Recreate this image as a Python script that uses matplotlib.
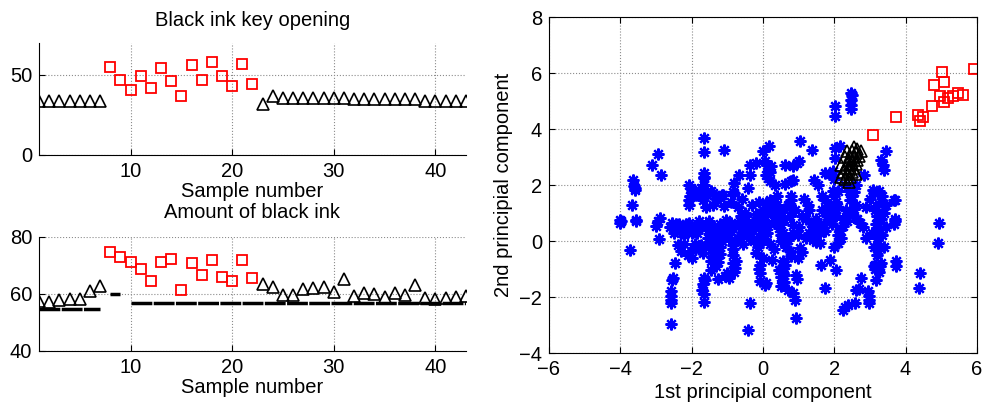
import numpy as np
import matplotlib
matplotlib.use("Agg")
import matplotlib.pyplot as plt

plt.rcParams['font.family'] = ['Liberation Sans', 'DejaVu Sans']
plt.rcParams['font.size'] = 14.5

# ---------------- Data ----------------

good_idx = list(range(1, 8)) + list(range(23, 44))
bad_idx = list(range(8, 23))

# Black ink key opening
key_good = [33.7, 33.7, 33.7, 33.7, 33.7, 33.7, 33.7,
            31.6, 36.8, 35.7, 35.7, 35.7, 35.7, 35.7, 35.7, 35.7,
            34.7, 34.7, 34.7, 34.7, 34.7, 34.7, 34.7,
            33.7, 33.7, 33.7, 33.7, 33.7]
key_bad = [55.2, 46.9, 40.9, 49.2, 41.9, 54.1, 46.1, 37.0,
           56.0, 47.1, 58.1, 49.2, 43.0, 57.0, 44.2]

# Amount of black ink
ink_good = [57.5, 57.3, 57.8, 58.2, 58.1, 61.2, 62.9,
            63.5, 62.4, 59.6, 59.6, 61.8, 62.0, 62.6, 60.6, 65.2,
            59.4, 60.2, 59.9, 58.8, 60.2, 59.6, 63.2,
            58.5, 58.2, 58.7, 59.1, 59.4]
ink_bad = [74.7, 72.9, 71.1, 68.6, 64.4, 71.1, 72.2, 61.3,
           70.8, 66.8, 72.0, 66.0, 64.4, 71.8, 65.6]
# reference levels (start sample, end sample, level)
ink_ref = [(1, 7, 54.9), (8, 9, 60.0), (10, 43, 56.9)]

# principal component scores
pc_bad = [(3.08, 3.8), (3.74, 4.43), (4.35, 4.49), (4.41, 4.27), (4.5, 4.43),
          (4.74, 4.81), (4.81, 5.58), (4.97, 5.17), (5.01, 6.04), (5.07, 5.67),
          (5.07, 4.96), (5.18, 5.11), (5.32, 5.17), (5.46, 5.29), (5.61, 5.23),
          (5.91, 6.14)]

pc_good = [(2.2, 2.3), (2.25, 2.45), (2.3, 2.6), (2.35, 2.75), (2.4, 2.9),
           (2.45, 3.05), (2.5, 3.2), (2.55, 3.35), (2.3, 2.2), (2.35, 2.4),
           (2.4, 2.55), (2.45, 2.7), (2.5, 2.85), (2.55, 3.0), (2.6, 3.15),
           (2.65, 3.3), (2.7, 3.05), (2.65, 2.9), (2.6, 2.75), (2.55, 2.6),
           (2.5, 2.45), (2.45, 2.3), (2.4, 2.1), (2.3, 3.0), (2.75, 3.2),
           (2.2, 2.7), (2.35, 3.2), (2.6, 2.4)]

pc_other = [
    # x ~ -4
    (-4.0, 0.75), (-4.0, 0.65), (-3.98, 0.7), (-3.67, 1.3), (-3.55, 0.76),
    (-3.55, 0.7), (-3.74, -0.31), (-3.6, 1.83), (-3.62, 1.95), (-3.64, 2.19),
    (-3.6, 1.89),
    # x ~ -2.9
    (-2.94, 0.7), (-3.0, 0.55), (-2.9, 0.82), (-2.92, 0.07), (-3.11, 2.7),
    (-2.94, 3.12), (-2.87, 2.35),
    # x ~ -2.55
    (-2.55, 0.64), (-2.53, -1.32), (-2.55, -1.38), (-2.57, -1.8), (-2.58, -1.95),
    (-2.58, -2.1), (-2.57, -2.21), (-2.59, -2.95), (-2.6, 0.5), (-2.5, 0.3),
    # x ~ -2.4 .. -1.8
    (-2.45, 0.6), (-2.35, 0.62), (-2.25, 0.55), (-2.15, 0.6), (-2.06, 0.64),
    (-2.3, 0.4), (-2.24, 0.29), (-2.2, 0.2), (-2.38, -0.13), (-2.29, -0.37),
    (-2.46, -0.79), (-1.98, -0.61), (-1.96, -0.25), (-2.1, 0.45), (-2.0, 0.3),
    (-2.07, 1.48), (-2.06, 1.3), (-2.05, 1.6), (-2.06, 2.01), (-1.98, 1.81),
    (-2.02, 1.9), (-1.87, 1.65), (-2.2, -0.1), (-2.1, -0.5), (-1.9, -0.1),
    (-1.8, -0.3), (-1.9, 0.5), (-1.8, 0.7), (-1.85, 0.3), (-1.75, 0.55),
    # x ~ -1.65
    (-1.65, 3.68), (-1.64, 3.18), (-1.65, 2.43), (-1.65, 2.3), (-1.65, 2.25),
    (-1.64, 2.01), (-1.73, 1.89), (-1.68, 1.48), (-1.7, 1.6), (-1.6, 1.7),
    (-1.82, 0.46), (-1.73, -0.13), (-1.68, -0.43), (-1.66, -1.32), (-1.63, -1.4),
    (-1.7, -1.74), (-1.68, -1.55), (-1.66, -2.19), (-1.66, -1.9),
    (-1.6, 0.6), (-1.55, 0.4), (-1.6, 1.2),
    # x ~ -1.5 .. -1.2
    (-1.5, 0.7), (-1.45, 0.55), (-1.4, 0.4), (-1.35, 0.2), (-1.4, 0.05),
    (-1.3, -0.1), (-1.4, -0.3), (-1.35, -0.45), (-1.4, -0.55), (-1.31, -0.9),
    (-1.45, -1.02), (-1.26, -1.36), (-1.25, -0.75), (-1.2, -0.2), (-1.28, 0.3),
    (-1.45, -0.7), (-1.5, -0.2), (-1.55, 0.1), (-1.56, 1.65), (-1.45, 1.77),
    (-1.4, 1.71), (-1.45, 0.25), (-1.5, -0.05), (-1.35, -0.25), (-1.3, -0.6),
    (-1.2, -0.45), (-1.2, 0.6), (-1.4, 1.3), (-1.3, 1.45),
    # x ~ -1.1 .. -0.7
    (-1.12, 1.65), (-1.03, 0.76), (-0.93, 0.52), (-1.0, 0.3), (-0.95, 0.1),
    (-0.79, 0.05), (-0.84, -0.49), (-0.85, -0.3), (-0.79, -0.96), (-0.8, -1.1),
    (-0.95, -1.32), (-1.05, -1.25), (-0.9, 0.65), (-1.1, 0.45), (-0.81, 1.71),
    (-0.84, 1.74), (-1.1, 3.26), (-1.14, 1.65), (-0.81, 2.08), (-0.68, 2.35),
    (-1.15, 0.0), (-1.1, 0.15), (-1.0, 0.55), (-0.9, 0.35), (-0.85, -0.15),
    (-0.75, -0.7), (-0.85, -0.8), (-1.0, -1.15), (-1.1, 1.25), (-0.9, 1.4),
    (-0.7, 1.2), (-0.7, 0.1), (-0.65, 0.7),
    # x ~ -0.6 .. -0.25
    (-0.67, 0.52), (-0.61, 0.88), (-0.47, 0.88), (-0.5, 0.75), (-0.42, 0.29),
    (-0.35, 0.45), (-0.28, 0.4), (-0.4, 0.1), (-0.3, 0.6), (-0.37, 2.73),
    (-0.42, 1.89), (-0.37, 2.35), (-0.36, -2.21), (-0.42, -3.17), (-0.55, 0.5),
    (-0.6, 0.3), (-0.6, 1.5), (-0.5, 1.0), (-0.3, 1.3), (-0.55, -0.1),
    (-0.25, 0.0),
    # x ~ -0.2 .. 0.2
    (-0.19, 2.79), (-0.19, -0.43), (-0.15, -0.2), (-0.09, -0.85), (-0.1, -1.0),
    (-0.08, -1.15), (-0.09, -1.44), (0.05, -1.56), (0.08, -1.5), (0.0, 0.05),
    (0.05, 0.2), (-0.05, 0.4), (0.05, 0.52), (0.0, 0.7), (0.05, 0.9),
    (0.0, 1.12), (0.09, 1.36), (0.19, 1.48), (0.1, 1.0), (-0.05, 0.6),
    (0.1, 0.3), (0.15, 0.55), (-0.1, 0.15), (0.17, 3.38), (0.0, 3.2),
    (0.05, 2.85), (0.23, 2.67), (0.17, 2.55), (0.09, 2.37), (0.19, 2.13),
    (0.33, 1.99), (0.15, 2.25), (0.2, 2.45), (0.1, 2.7), (-0.2, 0.95),
    (-0.1, 1.4), (-0.2, 0.7), (0.0, -0.6), (0.2, -0.1),
    # x ~ 0.25 .. 0.65
    (0.26, -0.67), (0.3, 1.4), (0.4, 1.3), (0.45, 0.9), (0.5, 0.6),
    (0.55, 0.3), (0.5, 0.0), (0.56, -0.7), (0.55, -0.9), (0.56, -1.14),
    (0.51, -1.3), (0.51, -1.62), (0.61, -0.85), (0.58, -1.45), (0.61, 2.04),
    (0.61, 2.7), (0.4, 1.6), (0.6, 1.15), (0.25, 1.2), (0.35, 0.95),
    (0.45, 0.45), (0.3, 0.7), (0.5, 0.2), (0.6, 0.8), (0.3, -0.3),
    (0.65, -0.2), (0.6, -1.2), (0.45, -1.05),
    # x ~ 0.7 .. 1.2
    (0.79, 1.6), (0.8, 1.45), (0.84, 0.58), (0.98, 0.23), (1.03, -0.25),
    (0.98, -0.61), (0.93, -1.2), (0.95, -1.35), (0.7, -1.74), (0.84, -1.86),
    (0.89, -2.1), (0.93, -2.75), (0.84, 2.67), (0.96, 2.79), (1.0, 2.85),
    (0.84, 2.19), (0.79, 2.13), (1.03, 3.56), (0.9, 1.1), (0.75, -0.35),
    (0.8, -0.55), (0.7, 1.3), (0.75, 0.9), (0.85, 0.3), (1.0, 0.5),
    (1.1, 0.9), (1.15, 1.5), (0.7, 0.05), (1.1, -0.4), (1.2, 0.1),
    # x ~ 1.2 .. 1.8
    (1.26, 1.3), (1.3, 1.1), (1.36, 0.64), (1.4, 0.4), (1.4, 0.05),
    (1.5, -0.05), (1.59, -0.07), (1.6, 0.3), (1.7, 0.6), (1.64, -0.85),
    (1.73, -1.68), (1.37, 3.24), (1.43, 2.18), (1.2, 0.8), (1.5, 0.8),
    (1.65, 1.1), (1.73, 2.43), (1.55, 2.0), (1.65, 1.6), (1.3, 0.3),
    (1.45, 0.2), (1.55, 0.55), (1.75, 0.35), (1.8, 0.9), (1.75, 1.45),
    # x ~ 1.8 .. 2.25
    (1.87, -0.67), (2.06, -1.02), (1.96, 1.77), (2.06, 0.88), (2.15, 0.4),
    (2.1, -0.07), (2.24, 0.52), (2.0, 1.6), (2.05, 1.4), (2.1, 1.2),
    (2.0, 1.0), (1.95, 0.6), (2.1, 0.2), (2.0, -0.2), (1.96, 2.49),
    (2.01, 3.32), (2.15, 3.38), (2.01, 2.96), (2.01, 4.81), (2.01, 4.45),
    (1.9, 0.8), (2.1, 1.8), (2.0, 2.2), (1.9, 2.4), (1.85, 1.2),
    (2.2, 0.1), (2.25, 0.8),
    # x ~ 2.3 .. 2.8
    (2.34, 1.12), (2.52, 0.94), (2.71, 0.64), (2.48, 5.29), (2.5, 5.2),
    (2.48, 5.05), (2.48, 4.87), (2.48, 4.71), (2.4, 1.8), (2.5, 1.6),
    (2.45, 1.45), (2.55, 1.75), (2.35, 0.7), (2.6, 1.3), (2.83, 2.37),
    (2.24, -2.45), (2.3, -2.35), (2.38, -2.27), (2.57, -2.21), (2.62, -1.74),
    (2.68, -1.7), (2.76, -1.32), (2.3, 2.0), (2.6, 2.0), (2.4, 1.0),
    (2.55, 1.15), (2.65, 0.8), (2.8, 0.5),
    # x ~ 2.9 .. 3.5
    (2.94, -1.8), (2.97, -2.21), (2.97, -2.1), (2.96, -1.95), (3.08, 1.83),
    (3.18, 1.24), (3.15, 1.1), (3.2, 0.9), (3.18, 0.6), (3.2, 0.45),
    (3.18, 0.29), (3.2, 0.1), (3.22, -0.1), (3.22, -0.31), (3.2, -0.5),
    (3.13, -0.85), (3.1, -0.9), (3.15, -1.0), (3.27, -0.9), (3.3, -0.8),
    (3.18, -1.38), (3.46, 1.3), (3.4, 1.0), (3.3, 1.4), (3.46, 3.2),
    (3.32, 2.9), (3.36, 2.73), (3.39, 2.55), (3.25, 1.8), (3.35, 1.6),
    (3.3, 0.8), (2.9, 1.2), (3.0, 1.5), (3.1, 1.7), (3.05, 0.3),
    (3.1, -0.2), (2.9, 0.1), (3.35, 0.2), (3.4, -0.2), (3.45, 0.5),
    (3.25, -1.1),
    # x ~ 3.7 and beyond
    (3.69, 0.7), (3.7, 0.8), (3.68, 0.6), (3.69, 1.48), (3.74, -0.73),
    (3.74, -0.9), (3.67, 1.48),
    (4.39, -1.14), (4.37, -1.68), (4.94, 0.64), (4.9, -0.07),
]

# ---------------- Plot ----------------

fig = plt.figure(figsize=(9.9, 4.11), dpi=100)

ax1 = fig.add_axes([0.0394, 0.6229, 0.4313, 0.2725])
ax2 = fig.add_axes([0.0394, 0.146, 0.4313, 0.2774])
ax3 = fig.add_axes([0.5545, 0.1411, 0.4323, 0.8175])

grid_kw = dict(color='0.55', linestyle=':', linewidth=0.8)
tri_kw = dict(linestyle='none', marker='^', ms=9, mfc='none', mec='k', mew=1.2)
sq_kw = dict(linestyle='none', marker='s', ms=6.5, mfc='none', mec='r', mew=1.3)

for ax in (ax1, ax2):
    ax.spines['top'].set_visible(False)
    ax.spines['right'].set_visible(False)
    ax.set_xlim(1, 43)
    ax.set_xticks([10, 20, 30, 40])
    ax.grid(True, **grid_kw)
    ax.tick_params(direction='in', length=4, pad=5)
    ax.set_xlabel('Sample number', labelpad=1)

ax1.plot(good_idx, key_good, **tri_kw)
ax1.plot(bad_idx, key_bad, **sq_kw)
ax1.set_ylim(0, 70)
ax1.set_yticks([0, 50])
ax1.set_title('Black ink key opening', fontsize=14.5, pad=12)

ax2.plot(good_idx, ink_good, **tri_kw)
ax2.plot(bad_idx, ink_bad, **sq_kw)
for x0, x1, lev in ink_ref:
    ax2.plot([x0, x1], [lev, lev], color='k', lw=2.5, linestyle=(0, (6, 0.4)))
ax2.set_ylim(40, 80)
ax2.set_yticks([40, 60, 80])
ax2.set_title('Amount of black ink', fontsize=14.5, pad=14)

ox, oy = zip(*pc_other)
gx, gy = zip(*pc_good)
bx, by = zip(*pc_bad)
ax3.plot(ox, oy, linestyle='none', marker=(8, 2, 0), ms=8.5, mec='b', mfc='b', mew=1.6)
ax3.plot(gx, gy, **tri_kw)
ax3.plot(bx, by, **sq_kw)
ax3.set_xlim(-6, 6)
ax3.set_ylim(-4, 8)
ax3.set_xticks(np.arange(-6, 7, 2))
ax3.set_yticks(np.arange(-4, 9, 2))
ax3.grid(True, **grid_kw)
ax3.tick_params(direction='in', length=4, pad=5, top=True, right=True)
ax3.set_xlabel('1st principial component', labelpad=3)
ax3.set_ylabel('2nd principial component', labelpad=4)

fig.savefig('out.png', dpi=100)
